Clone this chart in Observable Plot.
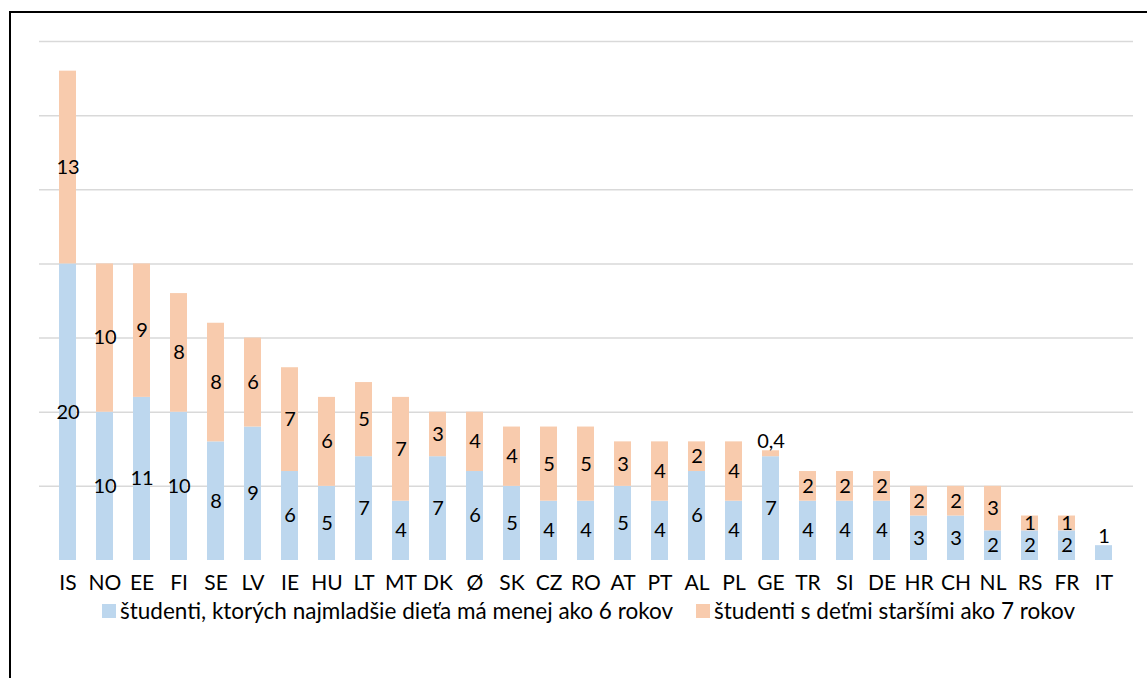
<!DOCTYPE html>
<html>
<head>
<meta charset="utf-8">
<script src="https://cdn.jsdelivr.net/npm/d3@7"></script>
<script src="https://cdn.jsdelivr.net/npm/@observablehq/plot@0.6"></script>
<style>
  html, body { margin: 0; padding: 0; background: #fff; }
  body { width: 1147px; height: 678px; position: relative; overflow: hidden; font-family: Lato, "Open Sans", sans-serif; }
  #frame { position: absolute; left: 9px; top: 11px; width: 1200px; height: 700px; border-top: 2px solid #000; border-left: 2px solid #000; }
  #chart { position: absolute; left: 0; top: 0; }
  #legend { position: absolute; top: 597px; left: 0; width: 1147px; display: flex; justify-content: center; gap: 23px; font-size: 22.5px; color: #000; padding-left: 30px; box-sizing: border-box; }
  .item { display: flex; align-items: center; }
  .sw { width: 14px; height: 14px; margin-right: 4px; }
</style>
</head>
<body>
<div id="frame"></div>
<div id="chart"></div>
<div id="legend"></div>
<script>
const countries = ["IS","NO","EE","FI","SE","LV","IE","HU","LT","MT","DK","Ø","SK","CZ","RO","AT","PT","AL","PL","GE","TR","SI","DE","HR","CH","NL","RS","FR","IT"];
const youngChild = [20,10,11,10,8,9,6,5,7,4,7,6,5,4,4,5,4,6,4,7,4,4,4,3,3,2,2,2,1];
const olderChild = [13,10,9,8,8,6,7,6,5,7,3,4,4,5,5,3,4,2,4,0.4,2,2,2,2,2,3,1,1,0];
const seriesNames = ["študenti, ktorých najmladšie dieťa má menej ako 6 rokov", "študenti s deťmi staršími ako 7 rokov"];
const colors = ["#BDD7EE", "#F8CBAD"];
const gridTicks = [5,10,15,20,25,30,35];

const rows = [];
countries.forEach((c, i) => {
  rows.push({country: c, series: seriesNames[0], value: youngChild[i], y1: 0, y2: youngChild[i], total: youngChild[i] + olderChild[i], top: olderChild[i] === 0});
  rows.push({country: c, series: seriesNames[1], value: olderChild[i], y1: youngChild[i], y2: youngChild[i] + olderChild[i], total: youngChild[i] + olderChild[i], top: true});
});
const fmt = v => String(v).replace(".", ",");
const labels = rows.filter(d => d.value > 0);
const isOutside = d => d.top && d.value <= 1 && (d.value < 1 || d.y1 === 0);
const inside = labels.filter(d => !isOutside(d));
const outside = labels.filter(isOutside);

const chart = Plot.plot({
  width: 1147,
  height: 600,
  marginTop: 41,
  marginBottom: 40,
  marginLeft: 39,
  marginRight: 14,
  style: {fontFamily: "Lato, 'Open Sans', sans-serif", fontSize: "21px", color: "#000", background: "transparent", overflow: "visible"},
  x: {domain: countries, paddingInner: 0.53, paddingOuter: 0.265, label: null, tickSize: 0, tickPadding: 15},
  y: {domain: [0, 35], axis: null},
  color: {domain: seriesNames, range: colors},
  marks: [
    Plot.ruleY(gridTicks, {stroke: "#d9d9d9", strokeWidth: 1.5}),
    Plot.rectY(rows, {x: "country", y1: "y1", y2: "y2", fill: "series"}),
    Plot.text(inside, {x: "country", y: d => (d.y1 + d.y2) / 2, text: d => fmt(d.value), fontSize: 20, fill: "#000"}),
    Plot.text(outside, {x: "country", y: "total", text: d => fmt(d.value), fontSize: 20, fill: "#000", lineAnchor: "bottom", dy: -3})
  ]
});
document.getElementById("chart").appendChild(chart);

const legend = document.getElementById("legend");
seriesNames.forEach((s, i) => {
  const it = document.createElement("div");
  it.className = "item";
  const sw = document.createElement("span");
  sw.className = "sw";
  sw.style.background = colors[i];
  const t = document.createElement("span");
  t.textContent = s;
  it.appendChild(sw); it.appendChild(t);
  legend.appendChild(it);
});
</script>
</body>
</html>
